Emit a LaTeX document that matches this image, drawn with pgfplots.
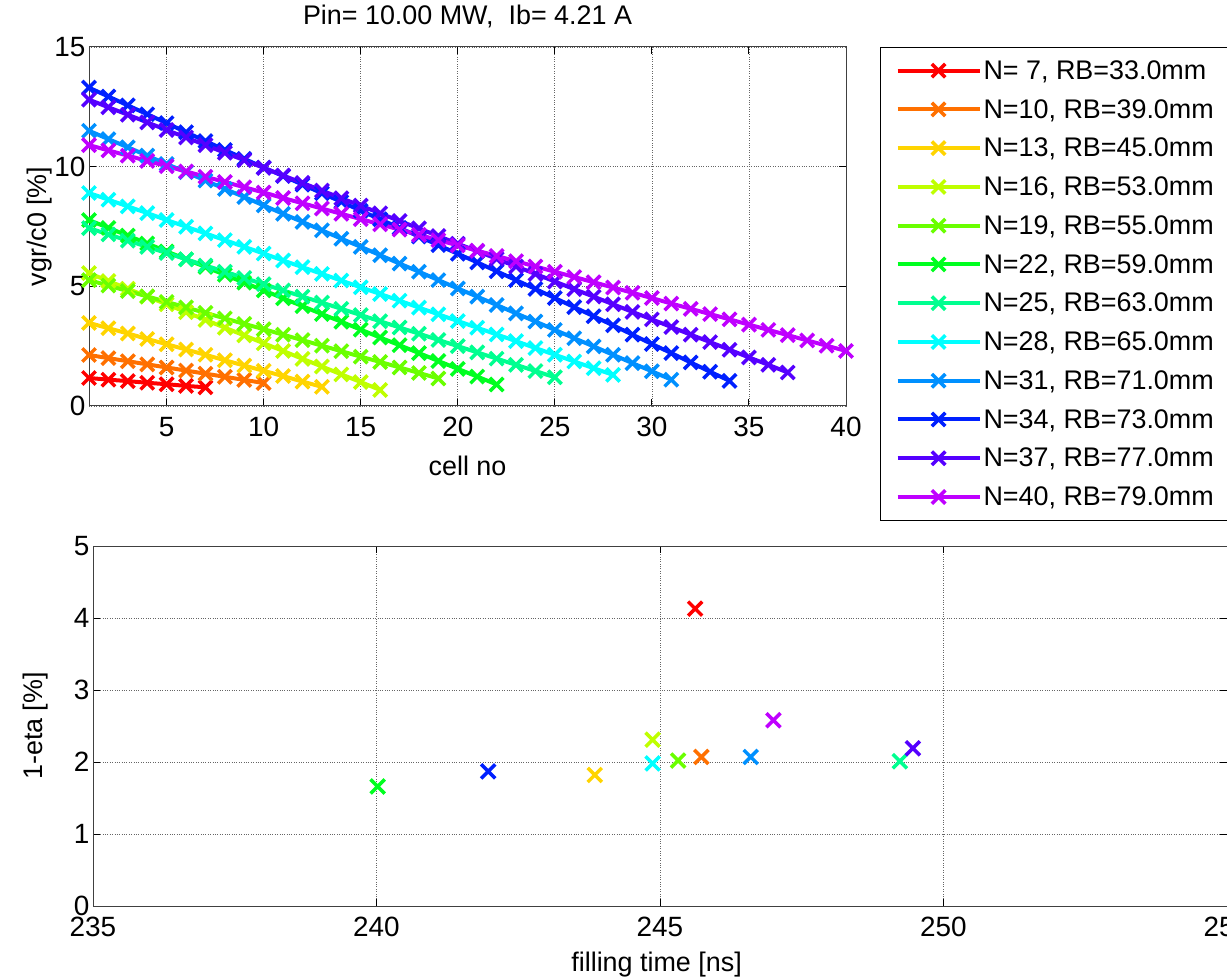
\documentclass[border=0pt]{standalone}
\usepackage{fontspec}
\setmainfont{Liberation Sans}
\usepackage{pgfplots}
\pgfplotsset{compat=1.18}
\definecolor{c1}{RGB}{255,0,0}
\definecolor{c2}{RGB}{255,112,0}
\definecolor{c3}{RGB}{255,212,0}
\definecolor{c4}{RGB}{191,255,0}
\definecolor{c5}{RGB}{106,255,0}
\definecolor{c6}{RGB}{0,255,32}
\definecolor{c7}{RGB}{0,255,144}
\definecolor{c8}{RGB}{0,255,255}
\definecolor{c9}{RGB}{0,144,255}
\definecolor{c10}{RGB}{0,32,255}
\definecolor{c11}{RGB}{85,0,255}
\definecolor{c12}{RGB}{191,0,255}
\pgfplotsset{
  mlab/.style={
    scale only axis,
    grid=major,
    major grid style={dotted, black!60, line width=0.8bp},
    axis line style={line width=1bp, black!75},
    tick style={black, line width=1bp},
    major tick length=7bp,
    tick align=inside,
    ticklabel style={font=\fontsize{28}{33}\selectfont},
    xticklabel style={yshift=-8bp},
    label style={font=\fontsize{27}{32}\selectfont},
    /pgf/number format/assume math mode=true,
  },
  ser/.style={#1, line width=4bp, mark=x, mark size=9.5bp, mark options={solid, line width=3.5bp}},
  pt/.style={#1, only marks, mark=x, mark size=10bp, mark options={solid, line width=3.5bp}},
}
\begin{document}
\begin{tikzpicture}
\begin{axis}[mlab,
  at={(89bp,573bp)}, anchor=south west,
  width=757bp, height=359bp,
  xmin=1, xmax=40, ymin=0, ymax=15,
  xtick={5,10,...,40}, ytick={0,5,10,15},
  xlabel={cell no}, ylabel={vgr/c0 [\%]},
  xlabel style={at={(axis description cs:0.5,-0.167)}, anchor=center},
  ylabel style={at={(axis description cs:-0.065,0.5)}, anchor=center},
  title={Pin= 10.00 MW,\ \ Ib= 4.21 A},
  title style={font=\fontsize{27}{32}\selectfont, at={(axis description cs:0.5,1.047)}, anchor=base},
  legend cell align=left,
  legend style={at={(1.045,1)}, anchor=north west, draw=black, line width=1bp,
    font=\fontsize{27}{32}\selectfont, row sep=14.5bp, inner xsep=15bp, inner ysep=11bp},
  legend image code/.code={\draw[mark repeat=2,mark phase=2,#1] plot coordinates {(0bp,0bp) (41bp,0bp) (82bp,0bp)};},
]
\addplot[ser=c1] coordinates {(1,1.17)(2,1.10)(3,1.04)(4,0.97)(5,0.91)(6,0.84)(7,0.78)};
\addlegendentry{N= 7, RB=33.0mm}
\addplot[ser=c2] coordinates {(1,2.13)(2,2.00)(3,1.87)(4,1.74)(5,1.61)(6,1.48)(7,1.35)(8,1.22)(9,1.09)(10,0.96)};
\addlegendentry{N=10, RB=39.0mm}
\addplot[ser=c3] coordinates {(1,3.47)(2,3.25)(3,3.03)(4,2.80)(5,2.58)(6,2.36)(7,2.14)(8,1.91)(9,1.69)(10,1.47)(11,1.25)(12,1.02)(13,0.80)};
\addlegendentry{N=13, RB=45.0mm}
\addplot[ser=c4] coordinates {(1,5.55)(2,5.22)(3,4.90)(4,4.57)(5,4.25)(6,3.92)(7,3.60)(8,3.27)(9,2.95)(10,2.62)(11,2.30)(12,1.97)(13,1.65)(14,1.32)(15,1.00)(16,0.67)};
\addlegendentry{N=16, RB=53.0mm}
\addplot[ser=c5] coordinates {(1,5.26)(2,5.03)(3,4.80)(4,4.58)(5,4.35)(6,4.12)(7,3.89)(8,3.66)(9,3.43)(10,3.21)(11,2.98)(12,2.75)(13,2.52)(14,2.29)(15,2.06)(16,1.84)(17,1.61)(18,1.38)(19,1.15)};
\addlegendentry{N=19, RB=55.0mm}
\addplot[ser=c6] coordinates {(1,7.77)(2,7.44)(3,7.12)(4,6.79)(5,6.46)(6,6.13)(7,5.81)(8,5.48)(9,5.15)(10,4.83)(11,4.50)(12,4.17)(13,3.84)(14,3.52)(15,3.19)(16,2.86)(17,2.54)(18,2.21)(19,1.88)(20,1.55)(21,1.23)(22,0.90)};
\addlegendentry{N=22, RB=59.0mm}
\addplot[ser=c7] coordinates {(1,7.43)(2,7.17)(3,6.91)(4,6.65)(5,6.39)(6,6.13)(7,5.87)(8,5.61)(9,5.35)(10,5.09)(11,4.83)(12,4.57)(13,4.32)(14,4.06)(15,3.80)(16,3.54)(17,3.28)(18,3.02)(19,2.76)(20,2.50)(21,2.24)(22,1.98)(23,1.72)(24,1.46)(25,1.20)};
\addlegendentry{N=25, RB=63.0mm}
\addplot[ser=c8] coordinates {(1,8.90)(2,8.62)(3,8.34)(4,8.06)(5,7.77)(6,7.49)(7,7.21)(8,6.93)(9,6.65)(10,6.37)(11,6.08)(12,5.80)(13,5.52)(14,5.24)(15,4.96)(16,4.68)(17,4.40)(18,4.11)(19,3.83)(20,3.55)(21,3.27)(22,2.99)(23,2.71)(24,2.42)(25,2.14)(26,1.86)(27,1.58)(28,1.30)};
\addlegendentry{N=28, RB=65.0mm}
\addplot[ser=c9] coordinates {(1,11.50)(2,11.15)(3,10.81)(4,10.46)(5,10.11)(6,9.77)(7,9.42)(8,9.07)(9,8.73)(10,8.38)(11,8.03)(12,7.69)(13,7.34)(14,6.99)(15,6.65)(16,6.30)(17,5.95)(18,5.61)(19,5.26)(20,4.91)(21,4.57)(22,4.22)(23,3.87)(24,3.53)(25,3.18)(26,2.83)(27,2.49)(28,2.14)(29,1.79)(30,1.45)(31,1.10)};
\addlegendentry{N=31, RB=71.0mm}
\addplot[ser=c10] coordinates {(1,13.30)(2,12.93)(3,12.56)(4,12.19)(5,11.82)(6,11.44)(7,11.07)(8,10.70)(9,10.33)(10,9.96)(11,9.61)(12,9.25)(13,8.89)(14,8.53)(15,8.16)(16,7.80)(17,7.44)(18,7.08)(19,6.72)(20,6.36)(21,6.00)(22,5.63)(23,5.26)(24,4.89)(25,4.51)(26,4.13)(27,3.75)(28,3.37)(29,2.98)(30,2.59)(31,2.21)(32,1.82)(33,1.43)(34,1.05)};
\addlegendentry{N=34, RB=73.0mm}
\addplot[ser=c11] coordinates {(1,12.80)(2,12.48)(3,12.17)(4,11.85)(5,11.53)(6,11.22)(7,10.90)(8,10.58)(9,10.27)(10,9.95)(11,9.63)(12,9.32)(13,9.00)(14,8.68)(15,8.37)(16,8.05)(17,7.73)(18,7.42)(19,7.10)(20,6.78)(21,6.47)(22,6.15)(23,5.83)(24,5.52)(25,5.20)(26,4.88)(27,4.57)(28,4.25)(29,3.93)(30,3.62)(31,3.30)(32,2.98)(33,2.67)(34,2.35)(35,2.03)(36,1.72)(37,1.40)};
\addlegendentry{N=37, RB=77.0mm}
\addplot[ser=c12] coordinates {(1,10.90)(2,10.68)(3,10.46)(4,10.24)(5,10.02)(6,9.80)(7,9.58)(8,9.36)(9,9.14)(10,8.92)(11,8.69)(12,8.47)(13,8.25)(14,8.03)(15,7.81)(16,7.59)(17,7.37)(18,7.15)(19,6.93)(20,6.71)(21,6.49)(22,6.27)(23,6.05)(24,5.83)(25,5.61)(26,5.39)(27,5.17)(28,4.95)(29,4.73)(30,4.51)(31,4.28)(32,4.06)(33,3.84)(34,3.62)(35,3.40)(36,3.18)(37,2.96)(38,2.74)(39,2.52)(40,2.30)};
\addlegendentry{N=40, RB=79.0mm}
\end{axis}
\begin{axis}[mlab,
  at={(93bp,73bp)}, anchor=south west,
  width=1134bp, height=360bp,
  xmin=235, xmax=255, ymin=0, ymax=5,
  xtick={235,240,...,255}, ytick={0,1,...,5},
  xlabel={filling time [ns]}, ylabel={1-eta [\%]},
  xlabel style={at={(axis description cs:0.497,-0.164)}, anchor=center},
  ylabel style={at={(axis description cs:-0.051,0.5)}, anchor=center},
]
\addplot[pt=c1] coordinates {(245.62,4.13)};
\addplot[pt=c2] coordinates {(245.73,2.07)};
\addplot[pt=c3] coordinates {(243.85,1.82)};
\addplot[pt=c4] coordinates {(244.87,2.31)};
\addplot[pt=c5] coordinates {(245.32,2.02)};
\addplot[pt=c6] coordinates {(240.02,1.66)};
\addplot[pt=c7] coordinates {(249.23,2.01)};
\addplot[pt=c8] coordinates {(244.87,1.98)};
\addplot[pt=c9] coordinates {(246.60,2.07)};
\addplot[pt=c10] coordinates {(241.97,1.87)};
\addplot[pt=c11] coordinates {(249.46,2.19)};
\addplot[pt=c12] coordinates {(247.00,2.58)};
\end{axis}
\pgfresetboundingbox
\useasboundingbox (0bp,0bp) rectangle (1227bp,979bp);
\end{tikzpicture}
\end{document}
